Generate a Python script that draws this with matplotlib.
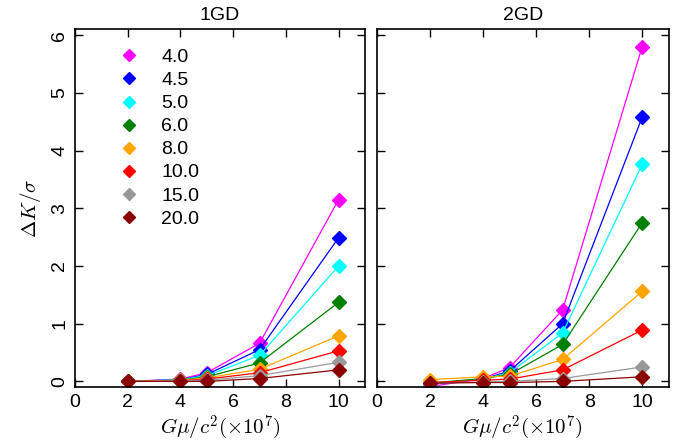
import numpy as np
import matplotlib
matplotlib.use("Agg")
import matplotlib.pyplot as plt

plt.rcParams['font.family'] = ['Liberation Sans', 'DejaVu Sans']
plt.rcParams['mathtext.fontset'] = 'cm'

gmu = [2, 4, 5, 7, 10]
labels = ["4.0", "4.5", "5.0", "6.0", "8.0", "10.0", "15.0", "20.0"]
colors = ["#ff00ff", "#0000ff", "#00ffff", "#008000", "#ffa500", "#ff0000", "#999999", "#8b0000"]

# 1GD
dk_1gd = [
    [0.00, 0.04, 0.15, 0.66, 3.15],
    [0.00, 0.03, 0.12, 0.55, 2.49],
    [0.00, 0.03, 0.10, 0.45, 2.00],
    [0.00, 0.02, 0.08, 0.32, 1.37],
    [0.00, 0.02, 0.06, 0.21, 0.79],
    [0.00, 0.01, 0.04, 0.15, 0.53],
    [0.00, 0.01, 0.02, 0.10, 0.33],
    [0.00, 0.00, 0.00, 0.05, 0.20],
]
# 2GD
dk_2gd = [
    [-0.09, 0.05, 0.24, 1.24, 5.80],
    [-0.05, 0.04, 0.18, 1.00, 4.58],
    [-0.04, 0.04, 0.15, 0.84, 3.76],
    [-0.03, 0.05, 0.12, 0.64, 2.75],
    [0.03, 0.08, 0.09, 0.38, 1.56],
    [-0.02, 0.02, 0.04, 0.20, 0.89],
    [-0.03, -0.01, 0.00, 0.05, 0.25],
    [-0.03, -0.02, -0.02, 0.00, 0.08],
]

fig = plt.figure(figsize=(6.88, 4.44), dpi=100)
ax1 = fig.add_axes([0.109, 0.128, 0.4215, 0.806])
ax2 = fig.add_axes([0.548, 0.128, 0.424, 0.806])

for ax, data, title in [(ax1, dk_1gd, "1GD"), (ax2, dk_2gd, "2GD")]:
    for vals, c, lab in zip(data, colors, labels):
        ax.plot(gmu, vals, color=c, lw=0.9, marker="D", ms=7.5, label=lab)
    ax.set_xlim(0, 11)
    ax.set_ylim(-0.1, 6.1)
    ax.set_xticks([0, 2, 4, 6, 8, 10])
    ax.set_yticks([0, 1, 2, 3, 4, 5, 6])
    ax.tick_params(direction="in", top=True, right=True, length=6, width=1.0,
                   labelsize=14, pad=5)
    ax.set_title(title, fontsize=14, pad=7)
    ax.set_xlabel(r"$G\mu/c^2(\times 10^7)$", fontsize=15, labelpad=2)
    for sp in ax.spines.values():
        sp.set_linewidth(1.2)
    for t in ax.get_yticklabels():
        t.set_rotation(90)
        t.set_va("center")

ax2.tick_params(labelleft=False)
ax1.set_ylabel(r"$\Delta K/\sigma$", fontsize=15, labelpad=6)

ax1.legend(loc="upper left", bbox_to_anchor=(0.11, 0.995), frameon=False,
           fontsize=14, handlelength=0.5, handletextpad=1.4,
           labelspacing=0.28, markerscale=0.85)
for line in ax1.get_legend().get_lines():
    line.set_linestyle("none")

fig.savefig("out.png", dpi=100)
